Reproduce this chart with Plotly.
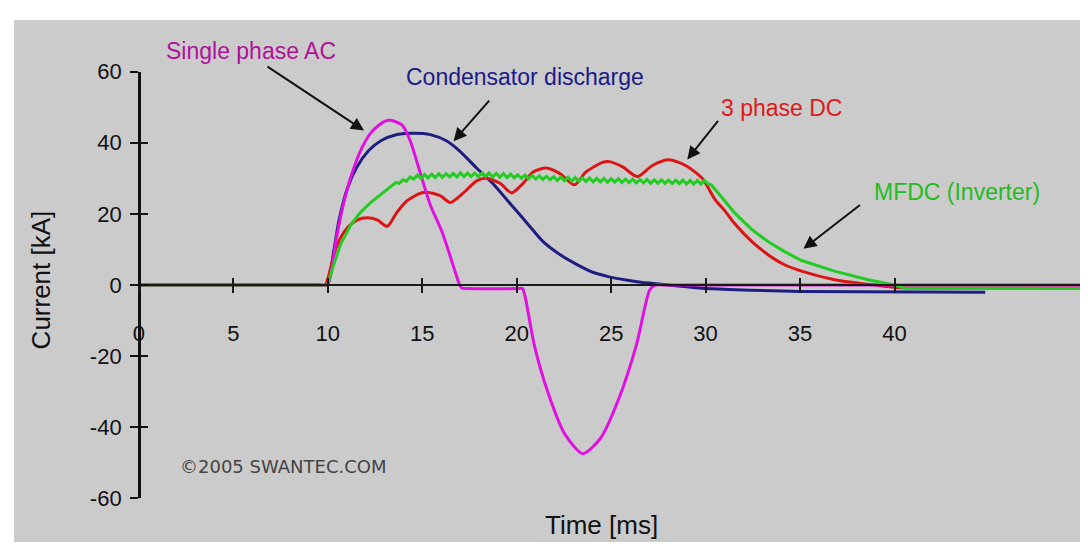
import plotly.graph_objects as go

# ---------------- data ----------------
# Single phase AC
ac_t = [0, 9.5, 9.98, 10.47, 10.82, 11.29, 11.82, 12.35, 12.96, 13.32, 13.93, 14.37, 14.9,
        15.43, 16.05, 16.55, 16.95, 17.1, 17.4, 20.0, 20.3, 20.45, 20.93, 21.67, 22.56, 23.5,
        24.45, 25.39, 26.34, 27.03, 27.3, 27.8, 50.2]
ac_i = [0, 0, 0, 13.5, 22.5, 31.5, 38.7, 43.2, 45.9, 46.3, 45.0, 40.5, 31.5,
        22.5, 15.0, 7.0, 0.5, -0.8, -1.0, -1.0, -1.0, -3.3, -16.8, -30.4, -42.0, -47.4,
        -43.0, -32.2, -16.8, -1.5, 0, 0, 0]

# Condensator discharge
cd_t = [0, 9.5, 9.98, 10.3, 10.59, 11.03, 11.56, 12.17, 12.79, 13.67, 14.55, 15.43, 16.3,
        17.0, 17.88, 18.76, 19.64, 20.52, 21.4, 22.28, 23.15, 24.03, 24.91, 25.79,
        26.67, 27.55, 28.43, 29.83, 31.6, 35.0, 44.8]
cd_i = [0, 0, 0, 9.0, 18.0, 27.0, 33.3, 37.8, 40.5, 42.3, 42.7, 42.3, 40.5,
        37.6, 32.9, 28.4, 23.0, 17.6, 12.2, 8.6, 5.9, 3.6, 2.3, 1.4,
        0.7, 0.3, -0.2, -0.9, -1.3, -1.8, -2.0]

# 3 phase DC
dc_t = [0, 9.4, 9.85, 10.34, 10.69, 11.04, 11.57, 12.1, 12.62, 13.15, 13.67, 14.2, 14.9,
        15.25, 15.96, 16.48, 17.18, 17.88, 18.41, 19.12, 19.73, 20.34, 20.87, 21.57,
        22.27, 23.06, 23.67, 24.55, 24.9, 25.61, 26.39, 27.18, 28.06, 28.94, 29.82,
        30.5, 31.0, 31.5, 32.45, 33.34, 34.18, 35.08, 36.82, 38.6, 39.97, 41.0, 50.2]
dc_i = [0, 0, 0, 8.8, 13.4, 16.1, 18.3, 18.9, 18.3, 16.5, 20.5, 23.7, 25.8,
        26.1, 25.1, 23.2, 25.9, 29.3, 30.0, 28.6, 25.9, 28.6, 31.8, 32.9,
        31.4, 28.2, 31.8, 34.5, 34.7, 33.2, 30.5, 33.6, 35.2, 33.6, 30.0,
        24.0, 21.0, 17.5, 12.2, 8.4, 5.7, 3.9, 1.5, 0.2, -0.6, -0.8, -0.8]

# MFDC (Inverter)
mf_t = [0, 9.99, 10.34, 10.69, 11.22, 11.75, 12.27, 12.8, 13.33,
        13.60, 13.79, 13.98, 14.17, 14.36, 14.55, 14.74, 14.93, 15.12, 15.31, 15.50,
        15.69, 15.88, 16.07, 16.26, 16.45, 16.64, 16.83, 17.02, 17.21, 17.40, 17.59,
        17.78, 17.97, 18.16, 18.35, 18.54, 18.73, 18.92, 19.11, 19.30, 19.49, 19.68,
        19.87, 20.06, 20.25, 20.44, 20.63, 20.82, 21.01, 21.20, 21.39, 21.58, 21.77,
        21.96, 22.15, 22.34, 22.53, 22.72, 22.91, 23.10, 23.29, 23.48, 23.67, 23.86,
        24.05, 24.24, 24.43, 24.62, 24.81, 25.00, 25.19, 25.38, 25.57, 25.76, 25.95,
        26.14, 26.33, 26.52, 26.71, 26.90, 27.09, 27.28, 27.47, 27.66, 27.85, 28.04,
        28.23, 28.42, 28.61, 28.80, 28.99, 29.18, 29.37, 29.56, 29.75, 29.94, 30.13,
        30.3, 30.71, 31.55, 32.45, 33.34, 34.18, 35.08, 36.82, 38.6, 39.97, 40.5, 50.2]
mf_i = [0, 0, 6.1, 11.5, 16.9, 20.5, 23.2, 25.5, 27.8,
        28.8, 28.6, 29.6, 29.2, 30.4, 29.8, 30.9, 30.0, 31.1, 30.1, 31.2,
        30.2, 31.3, 30.3, 31.3, 30.4, 31.4, 30.4, 31.5, 30.5, 31.5, 30.5,
        31.5, 30.5, 31.5, 30.5, 31.5, 30.4, 31.4, 30.3, 31.3, 30.2, 31.2,
        30.1, 31.0, 30.0, 30.9, 29.9, 30.8, 29.8, 30.7, 29.7, 30.6, 29.6,
        30.5, 29.4, 30.4, 29.3, 30.3, 29.2, 30.2, 29.2, 30.1, 29.1, 30.1,
        29.0, 30.0, 29.0, 30.0, 28.9, 29.9, 28.9, 29.9, 28.8, 29.8, 28.8,
        29.8, 28.7, 29.7, 28.7, 29.7, 28.6, 29.6, 28.6, 29.6, 28.6, 29.5,
        28.5, 29.5, 28.5, 29.5, 28.4, 29.4, 28.4, 29.4, 28.4, 29.4, 28.4,
        28.2, 25.6, 20.2, 15.6, 12.1, 9.4, 6.9, 3.9, 1.5, 0.0, -0.8, -1.0]

x_tick_vals = [0, 5, 10, 15, 20, 25, 30, 35, 40]
x_tick_text = ["0", "5", "10", "15", "20", "25", "30", "35", "40"]
y_tick_vals = [-60, -40, -20, 0, 20, 40, 60]
y_tick_text = ["-60", "-40", "-20", "0", "20", "40", "60"]

# ---------------- figure ----------------
FONT = "Liberation Sans, Arial, sans-serif"
C_AC = "#e010e0"
C_CD = "#1e1e80"
C_DC = "#dd1414"
C_MF = "#22cc22"

fig = go.Figure()
for t, i, c, shp in [(cd_t, cd_i, C_CD, "spline"), (dc_t, dc_i, C_DC, "spline"),
                     (ac_t, ac_i, C_AC, "spline"), (mf_t, mf_i, C_MF, "linear")]:
    fig.add_trace(go.Scatter(x=t, y=i, mode="lines",
                             line=dict(color=c, width=3, shape=shp, smoothing=0.7),
                             showlegend=False, hoverinfo="skip"))

# invisible trace on the overlay axes (inside half of the crossing ticks)
fig.add_trace(go.Scatter(x=[0], y=[0], xaxis="x2", yaxis="y2", mode="markers",
                         marker=dict(opacity=0), showlegend=False, hoverinfo="skip"))

X_DOM = [0.11620, 1.0]
Y_DOM = [0.08343, 0.90110]
X_RANGE = [0, 50.24]
Y_RANGE = [-60, 60]
X_POS = 0.49227   # paper y of current = 0
Y_POS = 0.11620   # paper x of time = 0

axis_common = dict(showgrid=False, zeroline=False, fixedrange=True)

fig.update_layout(
    width=1080, height=547,
    margin=dict(l=0, r=0, t=4, b=0),
    paper_bgcolor="white", plot_bgcolor="rgba(0,0,0,0)",
    font=dict(family=FONT, color="#111111"),
    xaxis=dict(domain=X_DOM, range=X_RANGE, anchor="free", position=X_POS,
               showline=True, linecolor="#1a1a1a", linewidth=2,
               ticks="outside", ticklen=7, tickwidth=2, tickcolor="#1a1a1a",
               tickmode="array", tickvals=x_tick_vals, ticktext=x_tick_text,
               tickfont=dict(size=22, family=FONT, color="#111111"),
               ticklabelstandoff=22, **axis_common),
    yaxis=dict(domain=Y_DOM, range=Y_RANGE, anchor="free", position=Y_POS,
               showline=True, linecolor="#111111", linewidth=2.5,
               ticks="outside", ticklen=8, tickwidth=2, tickcolor="#111111",
               tickmode="array", tickvals=y_tick_vals, ticktext=y_tick_text,
               tickfont=dict(size=22, family=FONT, color="#111111"),
               ticklabelstandoff=4, **axis_common),
    xaxis2=dict(domain=X_DOM, range=X_RANGE, anchor="free", position=X_POS,
                overlaying="x", showline=False, ticks="inside", ticklen=7, tickwidth=2,
                tickcolor="#1a1a1a", tickmode="array", tickvals=x_tick_vals,
                showticklabels=False, **axis_common),
    yaxis2=dict(domain=Y_DOM, range=Y_RANGE, anchor="free", position=Y_POS,
                overlaying="y", showline=False, ticks="inside", ticklen=8, tickwidth=2,
                tickcolor="#111111", tickmode="array", tickvals=y_tick_vals,
                showticklabels=False, **axis_common),
    shapes=[dict(type="rect", xref="paper", yref="paper", x0=0, x1=1, y0=0, y1=1,
                 fillcolor="#cbcbcb", line=dict(width=0), layer="below")],
)

def label(text, x, y, color, size, angle=0, family=FONT):
    fig.add_annotation(text=text, x=x, y=y, xref="paper", yref="paper",
                       xanchor="center", yanchor="middle", showarrow=False,
                       textangle=angle, font=dict(size=size, color=color, family=family))

label("Single phase AC", 0.2204, 0.9411, "#b0109a", 23)
label("Condensator discharge", 0.4759, 0.8913, "#1a1a8a", 23)
label("3 phase DC", 0.7148, 0.8306, "#dd1a1a", 23)
label("MFDC (Inverter)", 0.8778, 0.6703, "#22bb22", 23)
label("©2005 SWANTEC.COM", 0.2500, 0.1446, "#444444", 18, family="DejaVu Sans, sans-serif")
label("Time [ms]", 0.5472, 0.0331, "#111111", 26)
label("Current [kA]", 0.0250, 0.5028, "#111111", 26, angle=-90)

def arrow(x, y, ax, ay):
    fig.add_annotation(text="", x=x, y=y, xref="x", yref="y", ax=ax, ay=ay,
                       axref="pixel", ayref="pixel", showarrow=True,
                       arrowhead=2, arrowsize=1.3, arrowwidth=2, arrowcolor="#111111",
                       standoff=0)

arrow(11.92, 43.43, -98, -65)
arrow(16.66, 40.46, 37, -42)
arrow(29.03, 35.32, 32, -40)
arrow(35.18, 10.19, 58, -45)

fig.write_html("out.html")
